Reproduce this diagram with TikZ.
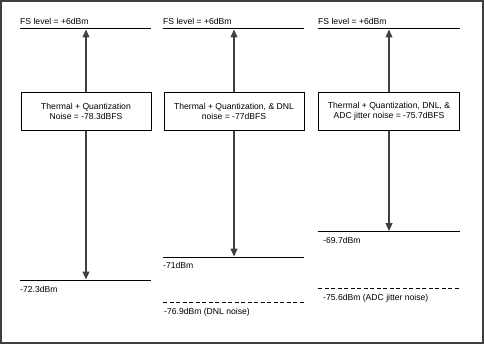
\documentclass[tikz,border=0pt]{standalone}
\usepackage{fontspec}
\setmainfont{Liberation Sans}
\usetikzlibrary{arrows.meta}
\begin{document}
\begin{tikzpicture}[x=1pt,y=-1pt,
  lbl/.style={anchor=base west,inner sep=0pt,font=\fontsize{8.6}{10}\selectfont},
  nbox/.style={draw,line width=1pt,inner sep=0pt,align=center,font=\fontsize{8.6}{10}\selectfont},
  lvl/.style={line width=1pt},
  dlvl/.style={line width=1pt,dash pattern=on 4pt off 2.5pt},
  arr/.style={draw=black!75,line width=1.2pt,-{Triangle[length=8pt,width=7pt]}}]
\useasboundingbox (0,0) rectangle (485,345);
\draw[black!75,line width=2pt] (1,1) rectangle (483,343);
% panel 1
\coordinate (a1) at (20,29); \coordinate (b1) at (151,29);
\draw[lvl] (a1) -- (b1);
\node[lbl] (fs1) at (20,25) {FS level = +6dBm};
\node[nbox,minimum width=130pt,minimum height=37pt] (box1) at (86,111.5) {Thermal + Quantization\\Noise = -78.3dBFS};
\coordinate (c1) at (20,280); \coordinate (d1) at (151,280);
\draw[lvl] (c1) -- (d1);
\node[lbl] (l1) at (20,292) {-72.3dBm};
\coordinate (t1) at (86,29.5); \coordinate (u1) at (86,279.5);
\draw[arr] (box1.north) -- (t1);
\draw[arr] (box1.south) -- (u1);
% panel 2
\coordinate (a2) at (163,29); \coordinate (b2) at (304,29);
\draw[lvl] (a2) -- (b2);
\node[lbl] (fs2) at (163,25) {FS level = +6dBm};
\node[nbox,minimum width=140pt,minimum height=37pt] (box2) at (234,111.5) {Thermal + Quantization, \& DNL\\noise = -77dBFS};
\coordinate (c2) at (163,257); \coordinate (d2) at (304,257);
\draw[lvl] (c2) -- (d2);
\node[lbl] (l2) at (163,268.5) {-71dBm};
\coordinate (e2) at (163,302.5); \coordinate (f2) at (304,302.5);
\draw[dlvl] (e2) -- (f2);
\node[lbl] (m2) at (164,314) {-76.9dBm (DNL noise)};
\coordinate (t2) at (234,29.5); \coordinate (u2) at (234,256.5);
\draw[arr] (box2.north) -- (t2);
\draw[arr] (box2.south) -- (u2);
% panel 3
\coordinate (a3) at (318,29); \coordinate (b3) at (460,29);
\draw[lvl] (a3) -- (b3);
\node[lbl] (fs3) at (318,25) {FS level = +6dBm};
\node[nbox,minimum width=141pt,minimum height=37pt] (box3) at (389,111.5) {Thermal + Quantization, DNL, \&\\ADC jitter noise = -75.7dBFS};
\coordinate (c3) at (318,231.5); \coordinate (d3) at (460,231.5);
\draw[lvl] (c3) -- (d3);
\node[lbl] (l3) at (323,243) {-69.7dBm};
\coordinate (e3) at (318,288.5); \coordinate (f3) at (460,288.5);
\draw[dlvl] (e3) -- (f3);
\node[lbl] (m3) at (323,300.5) {-75.6dBm (ADC jitter noise)};
\coordinate (t3) at (389,29.5); \coordinate (u3) at (389,231);
\draw[arr] (box3.north) -- (t3);
\draw[arr] (box3.south) -- (u3);
\end{tikzpicture}
\end{document}
